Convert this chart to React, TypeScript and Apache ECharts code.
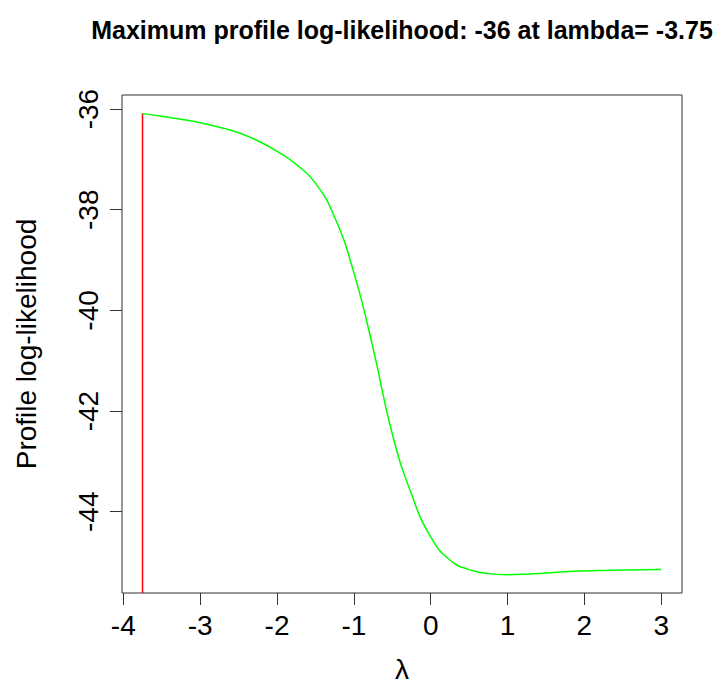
import React, { useEffect, useRef } from "react";
import * as echarts from "echarts";

const lambdaValues = [
  -3.75, -3.5, -3.25, -3.0, -2.75, -2.5, -2.25, -2.0, -1.75, -1.5, -1.25, -1.0,
  -0.75, -0.5, -0.25, 0, 0.25, 0.5, 0.75, 1.0, 1.25, 1.5, 1.75, 2.0, 2.25, 2.5,
  2.75, 3.0,
];
const profileLogLik = [
  -36.09, -36.14, -36.2, -36.27, -36.36, -36.47, -36.63, -36.84, -37.1,
  -37.47, -38.15, -39.25, -40.75, -42.45, -43.65, -44.5, -44.96, -45.15,
  -45.23, -45.25, -45.24, -45.22, -45.195, -45.178, -45.167, -45.16, -45.155,
  -45.15,
];
const maxLambda = -3.75;
const maxLogLik = -36.09;
const xTicks = [-4, -3, -2, -1, 0, 1, 2, 3];
const yTicks = [-44, -42, -40, -38, -36];
const titleText = "Maximum profile log-likelihood: -36 at lambda= -3.75";
const xName = "λ";
const yName = "Profile log-likelihood";

const X_MIN = -4.017;
const X_MAX = 3.27;
const Y_MIN = -45.615;
const Y_MAX = -35.72;

const FONT = '"Liberation Sans", Arial, Helvetica, sans-serif';

export default function App() {
  const ref = useRef<HTMLDivElement>(null);
  useEffect(() => {
    if (!ref.current) return;
    const chart = echarts.init(ref.current, null, { renderer: "svg" });
    chart.setOption({
      animation: false,
      backgroundColor: "#ffffff",
      title: {
        text: titleText,
        left: 397,
        top: 12,
        textAlign: "center",
        textStyle: {
          fontFamily: FONT,
          fontWeight: "bold",
          fontSize: 25,
          color: "#000",
        },
      },
      grid: {
        left: 122,
        right: 38,
        top: 95,
        bottom: 100,
        show: true,
        borderColor: "#333",
        borderWidth: 1,
        backgroundColor: "transparent",
      },
      xAxis: {
        type: "value",
        min: X_MIN,
        max: X_MAX,
        name: xName,
        nameLocation: "middle",
        nameGap: 62,
        nameTextStyle: { fontFamily: FONT, fontSize: 28, color: "#000" },
        axisLine: { show: false, onZero: false },
        splitLine: { show: false },
        axisTick: {
          show: true,
          length: 12,
          customValues: xTicks,
          lineStyle: { color: "#333", width: 1 },
        },
        axisLabel: {
          customValues: xTicks,
          margin: 18,
          fontFamily: FONT,
          fontSize: 28,
          color: "#000",
        },
      },
      yAxis: {
        type: "value",
        min: Y_MIN,
        max: Y_MAX,
        name: yName,
        nameLocation: "middle",
        nameGap: 82,
        nameRotate: 90,
        nameTextStyle: { fontFamily: FONT, fontSize: 28, color: "#000" },
        axisLine: { show: false, onZero: false },
        splitLine: { show: false },
        axisTick: {
          show: true,
          length: 12,
          customValues: yTicks,
          lineStyle: { color: "#333", width: 1 },
        },
        axisLabel: {
          customValues: yTicks,
          rotate: 90,
          margin: 20,
          fontFamily: FONT,
          fontSize: 28,
          color: "#000",
        },
      },
      series: [
        {
          type: "line",
          data: lambdaValues.map((l, i) => [l, profileLogLik[i]]),
          showSymbol: false,
          smooth: 0.5,
          lineStyle: { color: "#00ff00", width: 1.5 },
          z: 3,
        },
        {
          type: "line",
          data: [
            [maxLambda, Y_MIN],
            [maxLambda, maxLogLik],
          ],
          showSymbol: false,
          lineStyle: { color: "#ff0000", width: 1.5 },
          z: 2,
        },
      ],
    });
    return () => chart.dispose();
  }, []);
  return (
    <div
      ref={ref}
      style={{ position: "fixed", left: 0, top: 0, width: 720, height: 693 }}
    />
  );
}
